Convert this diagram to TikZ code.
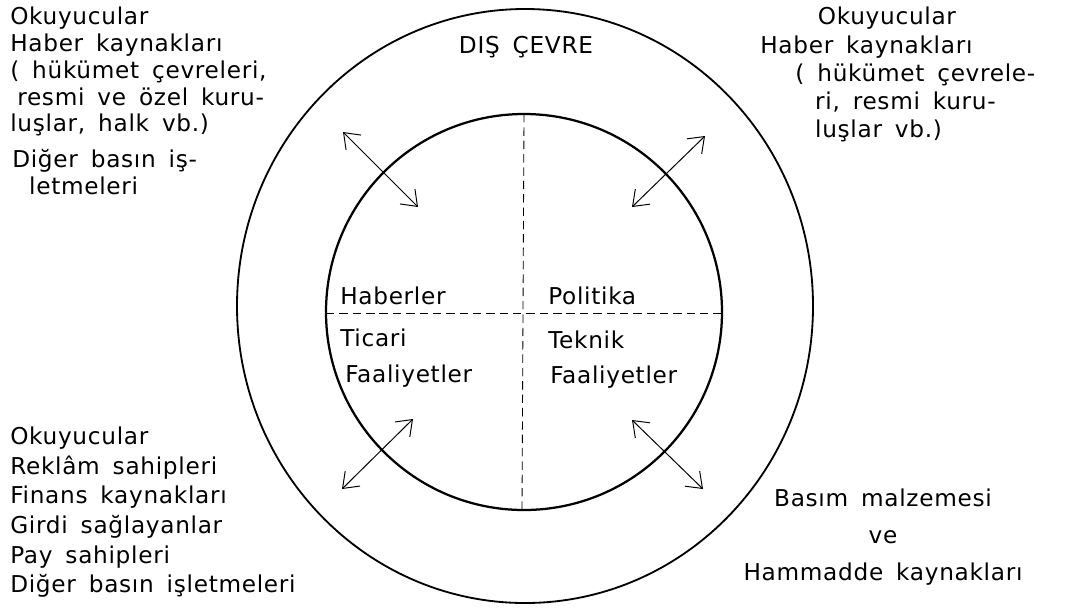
\documentclass[tikz,border=0pt]{standalone}
\usepackage{fontspec}
\setmainfont{DejaVu Sans}[LetterSpace=3.0, WordSpace=1.6]
\usetikzlibrary{arrows.meta}

\begin{document}
\begin{tikzpicture}[x=0.025cm, y=-0.025cm,
  txt/.style={inner sep=0pt, font=\fontsize{16.5}{19}\selectfont},
  block/.style={txt, align=left, anchor=north west},
  ring/.style={line width=1.3pt},
  link/.style={{Straight Barb[length=10pt,width=15pt]}-{Straight Barb[length=10pt,width=15pt]}, line width=0.7pt},
  divide/.style={dash pattern=on 6pt off 3.5pt, line width=0.6pt},
]
  \useasboundingbox (0,0) rectangle (1071,614);

  % outer and inner circle
  \draw[ring] (525,306) ellipse [x radius=288, y radius=297];
  \draw[ring, line width=1.6pt] (524,312) circle [radius=198];

  % quadrants
  \coordinate (vtop) at (524,114);
  \coordinate (vbot) at (522,510);
  \coordinate (hleft) at (326,313);
  \coordinate (hright) at (722,313);
  \draw[divide] (vtop) -- (vbot);
  \draw[divide] (hleft) -- (hright);

  \node[txt] (dis) at (526,47) {DIŞ ÇEVRE};
  \node[txt, anchor=west] (haberler) at (340,296) {Haberler};
  \node[txt, anchor=west] (politika) at (548,296) {Politika};
  \node[txt, anchor=west] (ticari) at (340,338) {Ticari};
  \node[txt, anchor=west] (ticfaal) at (345,376) {Faaliyetler};
  \node[txt, anchor=west] (teknik) at (548,340) {Teknik};
  \node[txt, anchor=west] (tekfaal) at (550,377) {Faaliyetler};

  % environment groups
  \node[block] (tlsrc) at (10,7)
    {Okuyucular\\Haber kaynakları\\( hükümet çevreleri,\\\hspace{5pt}resmi ve özel kuru-\\luşlar, halk vb.)};
  \node[block] (tlpress) at (12,149)
    {Diğer basın iş-\\\hspace{12pt}letmeleri};
  \node[block, font=\fontsize{16.5}{20}\selectfont] (trsrc) at (760,7)
    {\hspace{41pt}Okuyucular\\Haber kaynakları\\\hspace{25pt}( hükümet çevrele-\\\hspace{39pt}ri, resmi kuru-\\\hspace{39pt}luşlar vb.)};
  \node[block, font=\fontsize{16.5}{21}\selectfont] (blsrc) at (10,427)
    {Okuyucular\\Reklâm sahipleri\\Finans kaynakları\\Girdi sağlayanlar\\Pay sahipleri\\Diğer basın işletmeleri};
  \node[txt, align=center, anchor=north, font=\fontsize{16.5}{26}\selectfont] (brsrc) at (883,489)
    {Basım malzemesi\\ve\\Hammadde kaynakları};

  % exchanges across the boundary
  \coordinate (a1) at (343,132); \coordinate (b1) at (418,207);
  \coordinate (a2) at (705,136); \coordinate (b2) at (632,207);
  \coordinate (a3) at (342,489); \coordinate (b3) at (413,419);
  \coordinate (a4) at (703,489); \coordinate (b4) at (632,420);
  \foreach \from/\to in {a1/b1, a2/b2, a3/b3, a4/b4} {
    \draw[link] (\from) -- (\to);
  }
\end{tikzpicture}
\end{document}
